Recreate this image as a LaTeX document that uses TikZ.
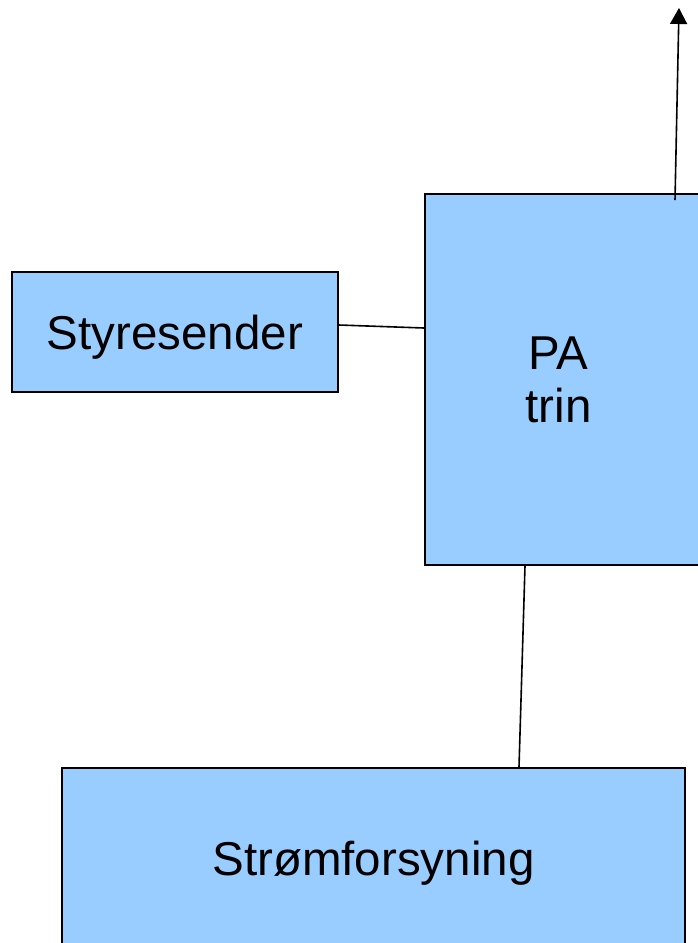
\documentclass[tikz,border=0pt]{standalone}
\usepackage{fontspec}
\setmainfont{Liberation Sans}
\usetikzlibrary{arrows.meta}
\definecolor{boxblue}{HTML}{99CCFF}
\begin{document}
\begin{tikzpicture}[x=1pt,y=-1pt,
  block/.style={draw=black,fill=boxblue,line width=1.8pt,inner sep=0pt,
    font=\fontsize{47.5}{53}\selectfont,align=center,text depth=0pt},
  wire/.style={draw=black,line width=1.6pt}]
\useasboundingbox (0,0) rectangle (697,943);
% blocks
\node[block,minimum width=326pt,minimum height=120pt] (styr) at (175,332) {Styresender};
\node[block,minimum width=275pt,minimum height=371pt] (pa) at (562.5,379.5) {PA\hspace*{8pt}\\trin\hspace*{8pt}};
\node[block,minimum width=623pt,minimum height=180pt] (strom) at (373.5,858) {Strømforsyning};
% free end of the output arrow
\coordinate (out) at (679,8);
% connectors
\draw[wire] ([yshift=7pt]styr.east) -- ([yshift=51.5pt]pa.west);
\draw[wire] ([xshift=-37.5pt]pa.south) -- ([xshift=145.5pt]strom.north);
\draw[wire,-{Triangle[length=16pt,width=17pt]}] ([xshift=112.5pt,yshift=-7pt]pa.north) -- (out);
\end{tikzpicture}
\end{document}
